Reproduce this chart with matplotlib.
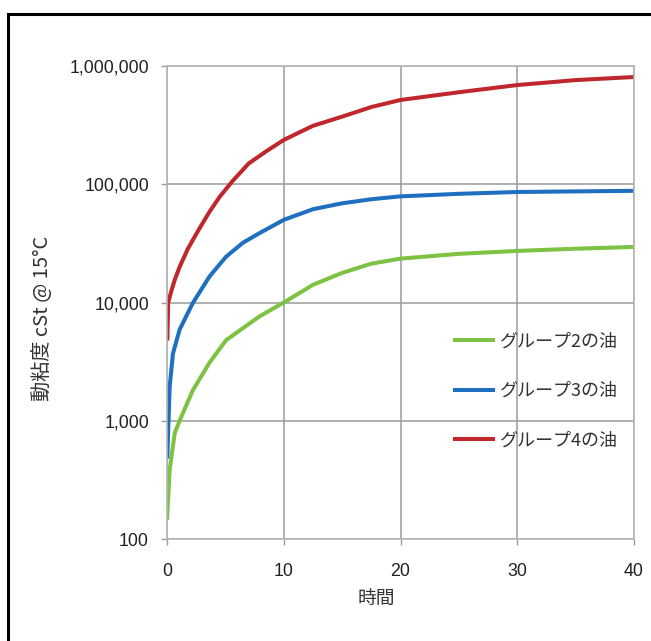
import numpy as np
import matplotlib.pyplot as plt
from matplotlib.patches import Rectangle
from matplotlib.ticker import FuncFormatter

plt.rcParams['font.family'] = ['Noto Sans CJK JP', 'DejaVu Sans']

# time values
t_green = [0, 0.23, 0.66, 1.08, 2.2, 3.64, 5.06, 7.9, 10, 12.5, 15, 17.5, 20, 25, 30, 35, 40]
v_green = [145, 385, 785, 1000, 1800, 3100, 4800, 7600, 10000, 14100, 17800, 21300, 23500, 25800, 27300, 28500, 29500]

t_blue = [0, 0.03, 0.23, 0.51, 1.08, 2.2, 3.64, 5.06, 6.5, 7.9, 10, 12.5, 15, 17.5, 20, 25, 30, 35, 40]
v_blue = [480, 500, 1950, 3700, 5900, 9860, 16600, 24400, 32000, 38500, 50000, 61500, 69000, 74700, 79000, 83000, 86000, 87000, 88000]

t_red = [0, 0.03, 0.1, 0.4, 0.66, 1.08, 1.79, 2.7, 3.64, 4.5, 5.6, 7, 8.5, 10, 12.5, 15, 17.5, 20, 25, 30, 35, 40]
v_red = [4800, 4900, 10000, 12800, 15500, 20000, 28500, 41000, 58500, 78000, 106000, 150000, 190000, 237000, 312000, 373000, 450000, 516000, 600000, 690000, 760000, 807000]

labels = ['グループ2の油', 'グループ3の油', 'グループ4の油']
colors = ['#7dc242', '#1f6fc0', '#c0272d']

fig = plt.figure(figsize=(6.51, 6.41), dpi=100)
ax = fig.add_axes([167/651, 1 - 539/641, 467/651, 473/641])

for t, v, lab, col in zip([t_green, t_blue, t_red], [v_green, v_blue, v_red], labels, colors):
    ax.plot(t, v, color=col, lw=2.9, label=lab, solid_capstyle='butt', solid_joinstyle='round')

ax.set_yscale('log')
ax.set_ylim(100, 1_000_000)
ax.set_xlim(0, 40)
ax.set_xticks([0, 10, 20, 30, 40])
ax.set_yticks([100, 1000, 10000, 100000, 1000000])
ax.yaxis.set_minor_locator(plt.NullLocator())
ax.yaxis.set_major_formatter(FuncFormatter(lambda v, p: f'{int(v):,}'))

ax.grid(True, color='#9a9a9a', lw=1.1)
ax.set_axisbelow(True)
for s in ax.spines.values():
    s.set_color('#b5b5b5')
    s.set_linewidth(1.2)
ax.tick_params(direction='out', length=4, width=1, color='#9a9a9a',
               labelsize=12.8, labelcolor='#222222')
ax.tick_params(axis='y', pad=9)
ax.tick_params(axis='x', pad=13)
for lbl in ax.get_xticklabels() + ax.get_yticklabels():
    lbl.set_family(['Liberation Sans', 'DejaVu Sans'])

ax.set_xlabel('時間', fontsize=13.5, color='#333333')
ax.xaxis.set_label_coords(0.448, -0.103)
ax.set_ylabel('動粘度 cSt @ 15°C', fontsize=14.5, color='#333333')
ax.yaxis.set_label_coords(-0.245, 0.466)

ax.legend(loc='center left', bbox_to_anchor=(0.612, 0.313), frameon=False,
          fontsize=13, labelspacing=1.76, handlelength=2.33, handletextpad=0.28,
          borderpad=0, borderaxespad=0, labelcolor='#333333')

# black frame around the chart (left and top edges visible)
fig.patches.append(Rectangle((8/651, -0.2), 1.2, 1.2 - 14/641, transform=fig.transFigure,
                             fill=False, ec='black', lw=2.2, clip_on=False))

fig.savefig('out.png', dpi=100)
